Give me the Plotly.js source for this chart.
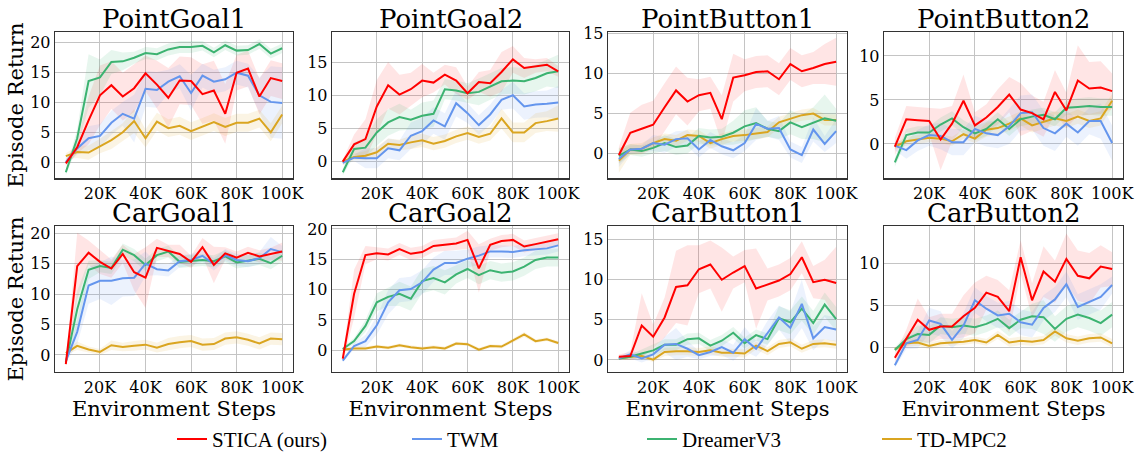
<!DOCTYPE html>
<html>
<head>
<meta charset="utf-8">
<script src="https://cdn.plot.ly/plotly-3.0.1.min.js"></script>
<style>html,body{margin:0;padding:0;background:#fff;}#chart{width:1136px;height:460px;}</style>
</head>
<body>
<div id="chart"></div>
<script>
// ---------- DATA ----------
const steps = [5,10,15,20,25,30,35,40,45,50,55,60,65,70,75,80,85,90,95,100]; // thousands of env steps
const xTickVals = [20,40,60,80,100];
const xTickText = ['20K','40K','60K','80K','100K'];
const methods = ['STICA (ours)','TWM','DreamerV3','TD-MPC2'];
const taskNames = ['PointGoal1','PointGoal2','PointButton1','PointButton2','CarGoal1','CarGoal2','CarButton1','CarButton2'];

// PointGoal1
const pg1_stica = [-0.2,2.5,7,11.2,12.9,11,12.4,14.9,13,10.8,13.7,13.6,11.4,12,8.1,15,15.7,11,14.1,13.6];
const pg1_twm   = [0,2.3,4,4.4,6.6,8.1,7.3,12.3,12.1,13.5,14.4,11.6,14.5,13.5,13.9,15,14.5,11.2,10.1,9.9];
const pg1_dv3   = [-1.7,4,13.6,14.2,16.8,16.9,17.5,18.3,18.1,18.9,19.3,19.3,19.5,18.4,19.6,18.7,18.8,19.8,18.2,19.1];
const pg1_tdm   = [1,1.7,1.6,2.7,3.7,5,6.9,4,6.8,5.7,6.1,5.2,5.9,6.7,5.9,6.6,6.6,7.3,5,8];
const pg1_stica_sd = [0.5,1,4,5,4,4,4,3,4,5,4,4,5,5,5,3,3,3,3,3];
const pg1_twm_sd   = [0.5,1,2,2,2,2,4,3,3,2,2,3,2,2,2,2,2,3,6,6];
const pg1_dv3_sd   = [0.5,1.5,4.5,3,2,1.5,1,1,1,1,1,1,0.8,0.8,0.8,0.8,0.8,0.8,0.8,0.8];
const pg1_tdm_sd   = [0.5,1,1.2,1.2,1.5,1.5,2,1.5,1.5,1.5,1.5,1.5,1.5,1.5,1.5,1.5,1.5,1.5,1.5,1.5];

// PointGoal2
const pg2_stica = [0,2.6,3.4,8.3,11.5,10.1,10.9,12.2,11.9,13.1,12.2,10.3,12,11.8,13.5,15.4,14.1,14.4,14.6,13.6];
const pg2_twm   = [-0.2,0.6,0.5,0.5,2,1.7,3.9,4.6,6.2,5.3,8.8,7.3,5.5,7.1,9.3,10,8.3,8.6,8.7,8.9];
const pg2_dv3   = [-1.6,1.9,2.1,4.4,5.9,6.7,6.3,6.9,7.2,10.9,10.7,10.3,10.5,11.3,12.1,12.2,12.1,12.6,13.3,13.6];
const pg2_tdm   = [0,0.7,0.9,1.4,2.7,2.5,2.9,3.2,2.7,3.1,3.8,4.3,3.7,4.2,6.5,4.4,4.4,5.8,6.1,6.5];
const pg2_stica_sd = [0.3,1.5,3,4,3.5,3,2.5,2.5,1.5,1.5,2,1,1.5,2,3,2,1.5,1,1,0.8];
const pg2_twm_sd   = [0.3,0.5,1.5,1.5,1.5,1.5,2,2,2,2,2,1.5,1.5,1.5,1.5,2,2,2,2,2.5];
const pg2_dv3_sd   = [0.5,1,1.5,2,2,2,1.5,2,2,1.5,1.5,1.5,2,2,2,2,2,2,2,2.5];
const pg2_tdm_sd   = [0.5,0.5,0.7,0.8,0.8,0.8,1,1,1,1,1,1,1,1,1.5,1.5,1.5,1.5,1.5,2];

// PointButton1
const pb1_stica = [-0.2,2.6,3.1,3.6,5.8,7.9,6.5,7.3,7.6,4.3,9.5,9.8,10.2,10.3,9.3,11.2,10.3,10.7,11.2,11.5];
const pb1_twm   = [-0.7,0.5,0.6,1.3,1.1,1.8,1.9,0.5,1.7,0.9,0.4,1.3,3.7,3.1,3.2,0.5,-0.2,3,1.2,2.8];
const pb1_dv3   = [-0.3,0.5,0.3,0.7,1.3,0.8,1,2.2,2,2.1,2.6,3.4,3.8,3.1,2.8,3.9,3.3,3.8,4.4,4.1];
const pb1_tdm   = [-0.9,0.5,0.6,1.3,1.8,1.6,2.3,2.2,1.3,1.8,2.2,2.3,2.5,2.7,3.9,4.4,4.8,5,4.2,4.2];
const pb1_stica_sd = [1,2.5,3,3,3,3,3,2,2,3,3,2,2,2,2,2,2,2,2.5,3];
const pb1_twm_sd   = [1,0.5,0.5,1,1,1,1,1,1,1,1,1,2,1,1.5,1,1,1.5,1,1.5];
const pb1_dv3_sd   = [1,0.7,0.7,0.7,1,1,1,1,1,1,1.5,2,2,1,1,1.5,1.5,2,3,1.5];
const pb1_tdm_sd   = [1.5,0.7,0.7,0.7,0.7,0.7,0.7,0.7,0.7,0.7,0.7,0.7,0.7,0.7,0.7,0.7,0.7,0.7,0.7,0.7];

// PointButton2
const pb2_stica = [-0.3,2.8,2.7,2.6,0.5,2.3,4.9,2.1,3,4.2,5.6,3.9,3.5,2.8,5.9,3.8,7.2,6.3,6.4,6.0];
const pb2_twm   = [-0.2,-0.7,0.4,1,0.9,0.2,0.2,1.7,1.2,1,2,3.5,3.6,1.8,1.2,2.3,1.3,2.6,2.6,0.1];
const pb2_dv3   = [-2.1,1,1.3,1.3,2.2,2.9,1.9,1.2,1.7,2.8,1.7,2.8,3.1,3.3,2.8,4.1,4.2,4.3,4.2,4.2];
const pb2_tdm   = [-0.3,0.3,0.5,0.7,0.6,0.3,1.1,0.6,1.6,1.8,2.3,2.9,2.1,2.5,2.9,2.6,3.1,2.6,2.9,4.9];
const pb2_stica_sd = [1,1.5,1.5,1.5,3.5,2,3,1.5,1.5,2,2,3,2,2,2.5,2,4,3,3,2];
const pb2_twm_sd   = [0.5,1,1.2,1.2,1.5,1.5,1.5,1.5,1.5,1.5,2,2,2,2,2,1.5,1.5,1.5,2,2];
const pb2_dv3_sd   = [0.5,0.7,0.7,0.7,0.8,0.8,0.8,0.8,0.8,0.8,0.8,0.8,0.8,0.8,0.8,0.8,1,1,1,1];
const pb2_tdm_sd   = [0.3,0.5,0.5,0.5,0.5,0.5,0.5,0.5,0.8,0.8,0.8,0.8,0.8,0.8,0.8,0.8,0.8,0.8,0.8,0.8];

// CarGoal1
const cg1_stica = [-1.5,14.6,16.8,15.3,14.2,16.6,13.6,12.7,17.6,17.1,16.6,15.3,17.7,14.8,16.7,16,16.8,16.2,16.6,17];
const cg1_twm   = [-1,3.8,11.4,12.2,12.2,12.6,12.7,15,14.1,13.9,15.4,15.6,16.3,14.9,16.4,15.6,15.4,15.9,17.4,16.9];
const cg1_dv3   = [-1.2,7.5,14,14.6,14.3,17.3,16.4,14.8,16.4,17,15.3,15.5,15.6,15.4,16.2,15.2,15.5,15.8,15.1,16.3];
const cg1_tdm   = [0.3,1.5,0.9,0.5,1.6,1.3,1.5,1.7,1.2,1.8,2.1,2.3,1.7,1.8,2.7,2.9,2.5,1.9,2.7,2.6];
const cg1_stica_sd = [0.3,5.5,2,2,1.5,1.5,3,5,1.5,1,1.5,1,1.5,3,1,1,1,1,1,1.5];
const cg1_twm_sd   = [0.3,2,3,3,4,3,3,2,1,1,1,1,1,1,1,1,1,1,2,1];
const cg1_dv3_sd   = [0.3,3,1.5,1,1,1,1,1,1,1,1,1,1,1,1,1,1,1,1,1];
const cg1_tdm_sd   = [0.3,0.7,0.5,0.5,0.8,0.7,0.8,0.8,0.8,1,1,1,1,1,1,1,1,1,1,1];

// CarGoal2
const cg2_stica = [-1.4,9.3,15.7,16,15.8,16.7,15.9,16.2,17.2,17.4,17.6,18.2,13.5,17.4,18,18.2,17.1,17.5,17.9,18.3];
const cg2_twm   = [-1.7,0.7,1.5,4.1,7.9,9.9,10.1,11.2,13.3,14.4,14.4,15.1,15.6,16.3,16.3,16.2,16.5,16.6,16.8,17.3];
const cg2_dv3   = [0.2,1.5,4,7.9,8.8,9.3,8.5,11.4,11.9,11.2,12.5,13.4,12.4,13.2,12.8,13,13.8,14.9,15.3,15.3];
const cg2_tdm   = [0.1,0.3,0.3,0.6,0.4,0.8,0.5,0.3,0.5,0.3,1.1,1,0.1,0.7,0.6,1.6,2.6,1.5,1.8,1.2];
const cg2_stica_sd = [0.5,4,1.5,1,1,1,1,1,1,1,1,1.5,4,1,1,1,1,1,1,1];
const cg2_twm_sd   = [0.3,0.5,1,1.5,2,2,2,2,2,2,2,1.5,1.5,1,1,1,1,1,1,1];
const cg2_dv3_sd   = [0.3,0.5,1,1.5,1.5,2,2,2,2,2,1.5,1.5,1.5,1.5,1.5,1.5,1.5,1.5,1.5,1.5];
const cg2_tdm_sd   = [0.2,0.3,0.3,0.3,0.3,0.3,0.3,0.3,0.3,0.3,0.3,0.3,0.3,0.3,0.3,0.3,0.4,0.3,0.3,0.3];

// CarButton1
const cb1_stica = [0.4,0.5,4.3,2.9,5.3,9.1,9.3,11.3,11.9,10,10.9,11.7,8.9,9.4,9.9,10.7,12.8,9.7,10,9.6];
const cb1_twm   = [0.2,0.7,0.2,0.7,1.9,2,1.4,0.6,1,1.6,0.9,2.6,1.4,3.4,5.3,4,7,2.7,4.1,3.8];
const cb1_dv3   = [0.2,0.4,0.8,1.2,1.9,1.9,2.6,2.7,1.8,2.4,3.4,2.1,3.1,2.6,5.2,4.7,6.4,4.6,6.9,5.1];
const cb1_tdm   = [0.2,0.4,0.5,0.05,1,1.1,1.1,1,1.2,0.9,0.9,0.8,1.8,1.1,2,2.2,1.4,2,2.1,1.9];
const cb1_stica_sd = [0.3,0.5,4,1.5,2.5,4.5,5,3,3,4,2,2,5,2,2,2,2,2,2.5,4.5];
const cb1_twm_sd   = [0.2,0.5,0.5,0.5,1,2,1,0.5,0.5,1,1,1.5,1,1.5,1.5,2,3,1.5,1.5,1.5];
const cb1_dv3_sd   = [0.2,0.3,0.5,0.7,0.7,0.7,0.7,0.7,0.7,0.7,0.7,0.7,0.7,0.7,1.5,1.5,1.5,1.5,1.5,1.5];
const cb1_tdm_sd   = [0.2,0.3,0.3,0.3,0.5,0.5,0.5,0.5,0.5,0.5,0.5,0.5,0.5,0.5,0.5,0.5,0.5,0.5,0.5,0.5];

// CarButton2
const cb2_stica = [-1.2,1.1,3.3,2.1,2.5,2.5,3.7,4.7,6.5,6,4.3,10.7,5.6,9,7.8,10.5,8.5,8.2,9.6,9.3];
const cb2_twm   = [-2.1,0.5,0.9,3.2,2.8,0.9,2.6,5.6,4.6,3.8,4,3,2.7,4.7,5.7,7.5,4.8,5.4,6,7.4];
const cb2_dv3   = [-0.3,1,1.6,1.5,2.6,2.4,2.6,2.4,2.8,3.4,2.3,3.3,3.7,3.6,2.2,3.4,3.9,3.5,2.9,3.9];
const cb2_tdm   = [-0.2,0.5,0.6,0.2,0.5,0.6,0.7,0.9,0.6,1.5,0.6,0.8,0.7,0.9,1.9,1.1,0.8,1.1,1.2,0.5];
const cb2_stica_sd = [0.5,1,2.5,1.5,1.5,1.5,2.5,3,2,2,2.5,2,2,3,2.5,3,3,3,2.5,2];
const cb2_twm_sd   = [0.3,0.7,1,1.5,1.5,1,1.5,1.5,1.5,1.5,1.5,1.5,1.5,1.5,1.5,1.5,1.5,1.5,1.5,1];
const cb2_dv3_sd   = [0.3,0.5,1,1,1,1,1,1,1,1,1,1,1.5,2,1.5,1.5,1.5,1.5,1.5,1.5];
const cb2_tdm_sd   = [0.2,0.4,0.4,0.4,0.4,0.4,0.4,0.4,0.4,0.5,0.5,0.5,0.5,0.5,0.5,0.5,0.5,0.5,0.5,0.5];

// y-axis ranges and tick values per panel
const yRanges = [[-2.7,21.8],[-2.5,19.5],[-3.1,15.2],[-3.9,12.7],[-2.8,21.2],[-3.6,20.5],[-1.5,16.7],[-2.9,14.4]];
const yTicks = [[0,5,10,15,20],[0,5,10,15],[0,5,10,15],[0,5,10],[0,5,10,15,20],[0,5,10,15,20],[0,5,10,15],[0,5,10]];

// ---------- BUILD ----------
const panels = [
  [pg1_stica,pg1_twm,pg1_dv3,pg1_tdm,pg1_stica_sd,pg1_twm_sd,pg1_dv3_sd,pg1_tdm_sd],
  [pg2_stica,pg2_twm,pg2_dv3,pg2_tdm,pg2_stica_sd,pg2_twm_sd,pg2_dv3_sd,pg2_tdm_sd],
  [pb1_stica,pb1_twm,pb1_dv3,pb1_tdm,pb1_stica_sd,pb1_twm_sd,pb1_dv3_sd,pb1_tdm_sd],
  [pb2_stica,pb2_twm,pb2_dv3,pb2_tdm,pb2_stica_sd,pb2_twm_sd,pb2_dv3_sd,pb2_tdm_sd],
  [cg1_stica,cg1_twm,cg1_dv3,cg1_tdm,cg1_stica_sd,cg1_twm_sd,cg1_dv3_sd,cg1_tdm_sd],
  [cg2_stica,cg2_twm,cg2_dv3,cg2_tdm,cg2_stica_sd,cg2_twm_sd,cg2_dv3_sd,cg2_tdm_sd],
  [cb1_stica,cb1_twm,cb1_dv3,cb1_tdm,cb1_stica_sd,cb1_twm_sd,cb1_dv3_sd,cb1_tdm_sd],
  [cb2_stica,cb2_twm,cb2_dv3,cb2_tdm,cb2_stica_sd,cb2_twm_sd,cb2_dv3_sd,cb2_tdm_sd]
];
const lineColors = ['#ff0000','#6495ed','#3cb371','#daa520'];
const bandColors = ['rgba(255,0,0,0.10)','rgba(100,149,237,0.12)','rgba(60,179,113,0.12)','rgba(218,165,32,0.12)'];

const W = 1136, H = 460;
const xPix = [[55,293],[332,569],[608,847],[884,1123]];
const yPix = [[33,183],[232,382]];
const serif = 'DejaVu Serif';

const traces = [];
const layout = {
  width: W, height: H,
  margin: {l:0,r:0,t:0,b:0},
  paper_bgcolor: '#fff', plot_bgcolor: '#fff',
  showlegend: true,
  legend: {orientation:'h', traceorder:'normal', x:172/W, xanchor:'left', y:1-451/H, yanchor:'middle',
           font:{family:'Liberation Serif', size:21, color:'#000'},
           entrywidth:190, entrywidthmode:'pixels', itemwidth:30, bgcolor:'rgba(0,0,0,0)'},
  annotations: [],
  font: {family: serif, color:'#000'}
};

panels.forEach((p, i) => {
  const row = Math.floor(i/4), col = i % 4;
  const ax = i === 0 ? '' : String(i+1);
  const xa = 'x'+ax, ya = 'y'+ax;
  const xd = [xPix[col][0]/W, xPix[col][1]/W];
  const yd = [1 - yPix[row][1]/H, 1 - yPix[row][0]/H];
  // shaded bands (mean +/- spread)
  for (let m = 0; m < 4; m++) {
    const mean = p[m], sd = p[m+4];
    const lo = mean.map((v,k)=>v-sd[k]);
    const hi = mean.map((v,k)=>v+sd[k]);
    traces.push({x:steps, y:lo, xaxis:xa, yaxis:ya, mode:'lines', line:{width:0,color:bandColors[m]}, showlegend:false, hoverinfo:'skip'});
    traces.push({x:steps, y:hi, xaxis:xa, yaxis:ya, mode:'lines', line:{width:0,color:bandColors[m]}, fill:'tonexty', fillcolor:bandColors[m], showlegend:false, hoverinfo:'skip'});
  }
  // mean lines (red drawn last, on top)
  [3,2,1,0].forEach(m => {
    traces.push({x:steps, y:p[m], xaxis:xa, yaxis:ya, mode:'lines', name:methods[m],
      line:{color:lineColors[m], width:2}, showlegend: i===0, legendrank: m+1});
  });
  const axBase = {
    showline:true, mirror:true, linecolor:'#333', linewidth:1.3,
    showgrid:true, gridcolor:'#c4c4c4', gridwidth:1, zeroline:false,
    ticks:'', tickfont:{family:serif, size:16, color:'#000'}
  };
  layout['xaxis'+ax] = Object.assign({}, axBase, {
    domain: xd, anchor: ya, range:[0.25,104.75], tickmode:'array', tickvals:xTickVals, ticktext:xTickText
  });
  if (row === 1) layout['xaxis'+ax].title = {text:'Environment Steps', font:{family:serif, size:21, color:'#000'}, standoff:2};
  layout['yaxis'+ax] = Object.assign({}, axBase, {
    domain: yd, anchor: xa, range: yRanges[i], tickmode:'array', tickvals:yTicks[i], ticktext:yTicks[i].map(String)
  });
  if (col === 0) layout['yaxis'+ax].title = {text:'Episode Return', font:{family:serif, size:21, color:'#000'}, standoff:0};
  layout.annotations.push({
    text: taskNames[i], xref:'paper', yref:'paper', x:(xd[0]+xd[1])/2, y:yd[1],
    xanchor:'center', yanchor:'bottom', yshift:-4, showarrow:false,
    font:{family:serif, size:26, color:'#000'}
  });
});

Plotly.newPlot('chart', traces, layout, {staticPlot:true, displayModeBar:false});
</script>
</body>
</html>
